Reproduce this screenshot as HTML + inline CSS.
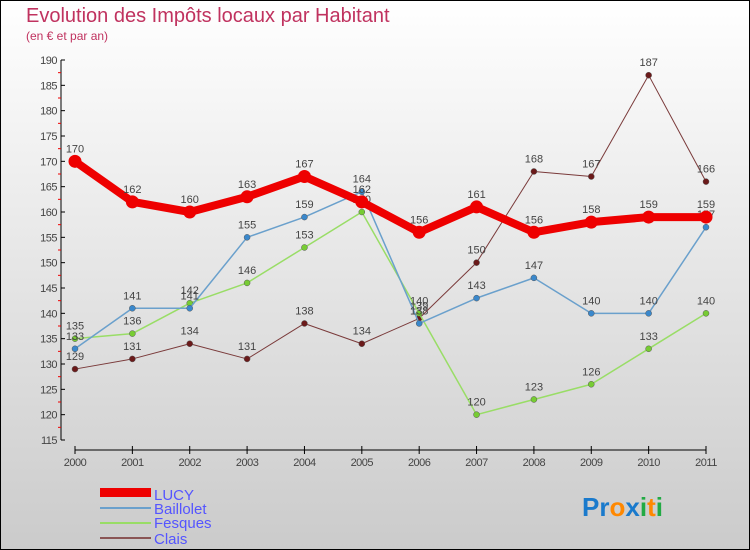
<!DOCTYPE html>
<html><head><meta charset="utf-8"><style>
body{margin:0}
#c{width:750px;height:550px;position:relative;overflow:hidden;font-family:"Liberation Sans",sans-serif}
</style></head><body>
<div id="c">
<svg id="s" width="750" height="550" xmlns="http://www.w3.org/2000/svg">
<defs><linearGradient id="bg" x1="0" y1="0" x2="0" y2="1"><stop offset="0" stop-color="#ffffff"/><stop offset="1" stop-color="#cbcbcb"/></linearGradient></defs>
<rect x="0.5" y="0.5" width="749" height="549" fill="url(#bg)" stroke="#000"/>
<text x="26" y="22" font-size="20" fill="#c0325f">Evolution des Impôts locaux par Habitant</text>
<text x="26" y="40" font-size="12" fill="#c0325f">(en € et par an)</text>
<g id="axes"></g><g id="series"></g>
<g>
<rect x="100" y="488" width="51" height="9" fill="#e00"/>
<text x="154" y="500" font-size="15" fill="#5555ff">LUCY</text>
<line x1="100" y1="508" x2="151" y2="508" stroke="#6aa0cc" stroke-width="2"/>
<text x="154" y="514" font-size="15" fill="#5555ff">Baillolet</text>
<line x1="100" y1="523" x2="151" y2="523" stroke="#99dd66" stroke-width="2"/>
<text x="154" y="528" font-size="15" fill="#5555ff">Fesques</text>
<line x1="100" y1="538" x2="151" y2="538" stroke="#8a5555" stroke-width="2"/>
<text x="154" y="544" font-size="15" fill="#5555ff">Clais</text>
</g>
<text x="582" y="516" font-size="26" font-weight="bold"><tspan fill="#1a7acc">Pr</tspan><tspan fill="#ff8800">o</tspan><tspan fill="#1a7acc">x</tspan><tspan fill="#22aa44">i</tspan><tspan fill="#ff8800">t</tspan><tspan fill="#22aa44">i</tspan></text>
</svg>
</div>
<script>
const years=[2000,2001,2002,2003,2004,2005,2006,2007,2008,2009,2010,2011];
const yTicks=[115,120,125,130,135,140,145,150,155,160,165,170,175,180,185,190];
const lucy=[170,162,160,163,167,162,156,161,156,158,159,159];
const baillolet=[133,141,141,155,159,164,138,143,147,140,140,157];
const fesques=[135,136,142,146,153,160,140,120,123,126,133,140];
const clais=[129,131,134,131,138,134,139,150,168,167,187,166];
const NS="http://www.w3.org/2000/svg";
function X(i){return 75+i*(706-75)/11;}
function Y(v){return 60+(190-v)*(380/75);}
function mk(t,a,p){const e=document.createElementNS(NS,t);for(const k in a)e.setAttribute(k,a[k]);p.appendChild(e);return e;}
const ax=document.getElementById('axes');
let l=mk('line',{x1:61,y1:Y(190),x2:61,y2:Y(115),stroke:'#000'},ax);


yTicks.forEach(v=>{
 mk('line',{x1:61,y1:Y(v),x2:65,y2:Y(v),stroke:'#000'},ax);
 if(v<190)mk('line',{x1:58,y1:Y(v+2.5),x2:61,y2:Y(v+2.5),stroke:'#e00'},ax);
 const t=mk('text',{x:57,y:Y(v)+4,'font-size':11,fill:'#444','text-anchor':'end','letter-spacing':'-0.5'},ax);
 t.textContent=v;
 
 
});
l=mk('line',{x1:75,y1:450,x2:706,y2:450,stroke:'#000'},ax);


years.forEach((y,i)=>{
 mk('line',{x1:X(i),y1:446,x2:X(i),y2:454,stroke:'#000'},ax);
 const t=mk('text',{x:X(i),y:466,'font-size':11,fill:'#444','text-anchor':'middle','letter-spacing':'-0.5'},ax);
 t.textContent=y;
 
 
});
const sg=document.getElementById('series');
function series(name,data,color,w,dot,dotFill){
 const g=mk('g',{},sg);
 
 
 const pl=mk('polyline',{points:data.map((v,i)=>X(i)+','+Y(v)).join(' '),fill:'none',stroke:color,'stroke-width':w,'stroke-linejoin':'round'},g);
 
 
 data.forEach((v,i)=>{
  const c=mk('circle',{cx:X(i),cy:Y(v),r:dot,fill:dotFill,stroke:w>3?'none':'#555','stroke-width':0.5},g);
  
  
  const t=mk('text',{x:X(i),y:Y(v)-9,'font-size':11,fill:'#444','text-anchor':'middle'},g);
  t.textContent=v;
  
  
 });
}
series('clais',clais,'#7a3a3a',1,3,'#6b1a1a');
series('fesques',fesques,'#99dd66',1.5,3,'#77cc33');
series('baillolet',baillolet,'#6aa0cc',1.5,3,'#3a88cc');
series('lucy',lucy,'#ee0000',8,6.5,'#ee0000');
</script>
</body></html>
